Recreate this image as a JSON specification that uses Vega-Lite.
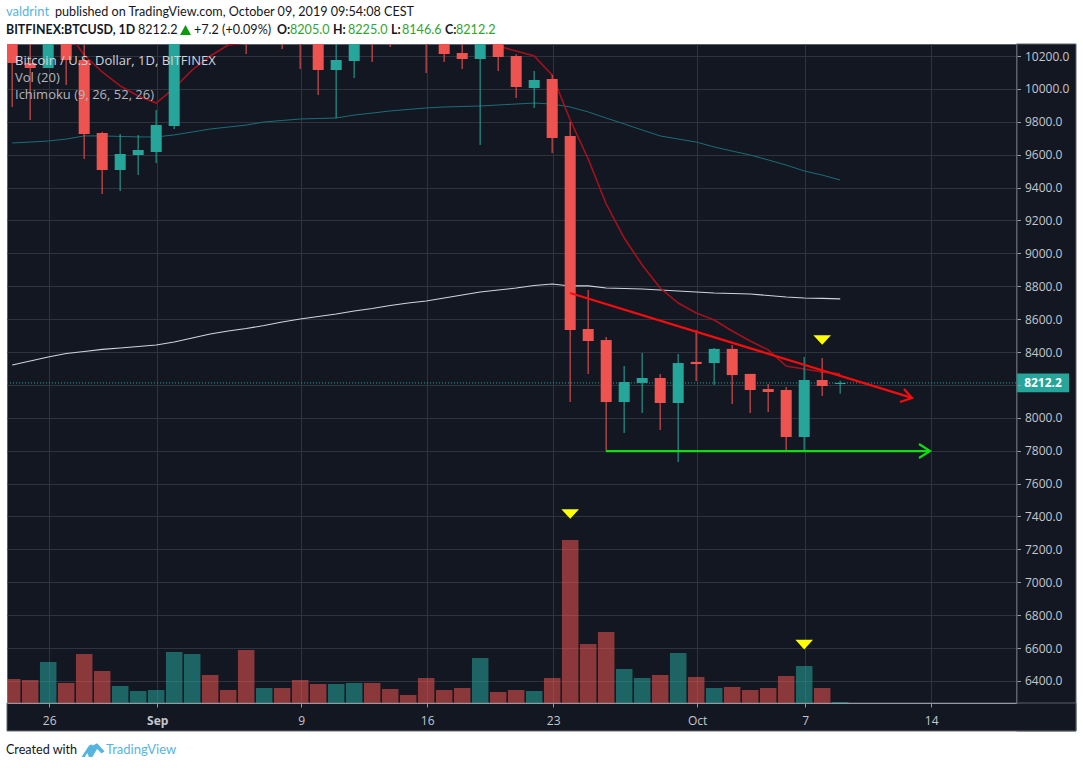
{"$schema":"https://vega.github.io/schema/vega-lite/v6.json","width":1009.5,"height":659,"autosize":{"type":"none"},"padding":{"left":7,"top":44,"right":66.5,"bottom":65},"background":"#ffffff","config":{"view":{"fill":"#131722","stroke":"#5d606b","strokeWidth":1},"font":"Open Sans"},
"datasets":{
"candles":[
{"d":"2019-08-24","o":10400,"h":10450,"l":9890,"c":10157,"v":2400,"mt":9671,"mw":8321,"mr":10600,"dir":"down"},
{"d":"2019-08-25","o":10157,"h":10350,"l":9811,"c":10127,"v":2300,"mt":9677,"mw":8346,"mr":10550,"dir":"down"},
{"d":"2019-08-26","o":10127,"h":10600,"l":10127,"c":10360,"v":4100,"mt":9683,"mw":8370,"mr":10450,"dir":"up"},
{"d":"2019-08-27","o":10360,"h":10420,"l":10024,"c":10176,"v":2000,"mt":9695,"mw":8391,"mr":10358,"dir":"down"},
{"d":"2019-08-28","o":10176,"h":10450,"l":9574,"c":9726,"v":4900,"mt":9714,"mw":8403,"mr":10206,"dir":"down"},
{"d":"2019-08-29","o":9732,"h":9740,"l":9361,"c":9507,"v":3200,"mt":9714,"mw":8416,"mr":10103,"dir":"down"},
{"d":"2019-08-30","o":9507,"h":9726,"l":9379,"c":9604,"v":1700,"mt":9711,"mw":8425,"mr":10018,"dir":"up"},
{"d":"2019-08-31","o":9598,"h":9720,"l":9477,"c":9628,"v":1200,"mt":9708,"mw":8434,"mr":9957,"dir":"up"},
{"d":"2019-09-01","o":9616,"h":9872,"l":9550,"c":9780,"v":1300,"mt":9708,"mw":8443,"mr":9914,"dir":"up"},
{"d":"2019-09-02","o":9774,"h":10450,"l":9756,"c":10370,"v":5100,"mt":9720,"mw":8461,"mr":10005,"dir":"up"},
{"d":"2019-09-03","o":10370,"h":10780,"l":10310,"c":10600,"v":4900,"mt":9738,"mw":8485,"mr":10115,"dir":"up"},
{"d":"2019-09-04","o":10600,"h":10640,"l":10350,"c":10570,"v":2800,"mt":9756,"mw":8510,"mr":10200,"dir":"down"},
{"d":"2019-09-05","o":10570,"h":10620,"l":10450,"c":10560,"v":1300,"mt":9768,"mw":8528,"mr":10267,"dir":"down"},
{"d":"2019-09-06","o":10560,"h":10640,"l":10212,"c":10310,"v":5300,"mt":9780,"mw":8543,"mr":10279,"dir":"down"},
{"d":"2019-09-07","o":10310,"h":10550,"l":10290,"c":10470,"v":1500,"mt":9799,"mw":8561,"mr":10300,"dir":"up"},
{"d":"2019-09-08","o":10470,"h":10590,"l":10243,"c":10400,"v":1500,"mt":9808,"mw":8583,"mr":10320,"dir":"down"},
{"d":"2019-09-09","o":10400,"h":10480,"l":10121,"c":10310,"v":2300,"mt":9817,"mw":8601,"mr":10340,"dir":"down"},
{"d":"2019-09-10","o":10310,"h":10380,"l":9963,"c":10115,"v":1900,"mt":9820,"mw":8616,"mr":10350,"dir":"down"},
{"d":"2019-09-11","o":10115,"h":10290,"l":9823,"c":10176,"v":1900,"mt":9823,"mw":8631,"mr":10360,"dir":"up"},
{"d":"2019-09-12","o":10170,"h":10450,"l":10066,"c":10420,"v":2000,"mt":9841,"mw":8650,"mr":10380,"dir":"up"},
{"d":"2019-09-13","o":10420,"h":10450,"l":10164,"c":10360,"v":2000,"mt":9853,"mw":8665,"mr":10390,"dir":"down"},
{"d":"2019-09-14","o":10360,"h":10420,"l":10255,"c":10350,"v":1400,"mt":9866,"mw":8683,"mr":10400,"dir":"down"},
{"d":"2019-09-15","o":10350,"h":10400,"l":10290,"c":10300,"v":800,"mt":9875,"mw":8698,"mr":10400,"dir":"down"},
{"d":"2019-09-16","o":10320,"h":10380,"l":10097,"c":10290,"v":2500,"mt":9884,"mw":8710,"mr":10390,"dir":"down"},
{"d":"2019-09-17","o":10290,"h":10310,"l":10164,"c":10212,"v":1300,"mt":9890,"mw":8729,"mr":10370,"dir":"down"},
{"d":"2019-09-18","o":10218,"h":10300,"l":10121,"c":10182,"v":1500,"mt":9893,"mw":8747,"mr":10340,"dir":"down"},
{"d":"2019-09-19","o":10182,"h":10400,"l":9659,"c":10290,"v":4500,"mt":9896,"mw":8765,"mr":10300,"dir":"up"},
{"d":"2019-09-20","o":10290,"h":10340,"l":10109,"c":10194,"v":1100,"mt":9902,"mw":8777,"mr":10261,"dir":"down"},
{"d":"2019-09-21","o":10200,"h":10210,"l":9945,"c":10012,"v":1300,"mt":9908,"mw":8789,"mr":10230,"dir":"down"},
{"d":"2019-09-22","o":10005,"h":10109,"l":9884,"c":10054,"v":1200,"mt":9914,"mw":8805,"mr":10200,"dir":"up"},
{"d":"2019-09-23","o":10060,"h":10084,"l":9610,"c":9701,"v":2500,"mt":9908,"mw":8814,"mr":10084,"dir":"down"},
{"d":"2019-09-24","o":9714,"h":9799,"l":8096,"c":8534,"v":16300,"mt":9890,"mw":8802,"mr":9811,"dir":"down"},
{"d":"2019-09-25","o":8540,"h":8777,"l":8267,"c":8467,"v":5900,"mt":9860,"mw":8802,"mr":9574,"dir":"down"},
{"d":"2019-09-26","o":8473,"h":8492,"l":7798,"c":8096,"v":7100,"mt":9823,"mw":8789,"mr":9300,"dir":"down"},
{"d":"2019-09-27","o":8096,"h":8315,"l":7908,"c":8218,"v":3400,"mt":9787,"mw":8786,"mr":9093,"dir":"up"},
{"d":"2019-09-28","o":8212,"h":8394,"l":8030,"c":8242,"v":2500,"mt":9750,"mw":8783,"mr":8929,"dir":"up"},
{"d":"2019-09-29","o":8242,"h":8267,"l":7926,"c":8090,"v":2800,"mt":9714,"mw":8777,"mr":8789,"dir":"down"},
{"d":"2019-09-30","o":8090,"h":8388,"l":7732,"c":8333,"v":5000,"mt":9695,"mw":8771,"mr":8698,"dir":"up"},
{"d":"2019-10-01","o":8340,"h":8534,"l":8224,"c":8327,"v":2600,"mt":9677,"mw":8765,"mr":8637,"dir":"down"},
{"d":"2019-10-02","o":8333,"h":8425,"l":8200,"c":8419,"v":1500,"mt":9647,"mw":8759,"mr":8595,"dir":"up"},
{"d":"2019-10-03","o":8419,"h":8443,"l":8084,"c":8260,"v":1600,"mt":9622,"mw":8756,"mr":8528,"dir":"down"},
{"d":"2019-10-04","o":8267,"h":8267,"l":8030,"c":8169,"v":1300,"mt":9598,"mw":8753,"mr":8467,"dir":"down"},
{"d":"2019-10-05","o":8175,"h":8206,"l":8036,"c":8157,"v":1500,"mt":9568,"mw":8744,"mr":8413,"dir":"down"},
{"d":"2019-10-06","o":8169,"h":8188,"l":7805,"c":7884,"v":2700,"mt":9537,"mw":8735,"mr":8315,"dir":"down"},
{"d":"2019-10-07","o":7884,"h":8370,"l":7792,"c":8230,"v":3700,"mt":9501,"mw":8729,"mr":8297,"dir":"up"},
{"d":"2019-10-08","o":8230,"h":8364,"l":8133,"c":8194,"v":1500,"mt":9476,"mw":8726,"mr":8279,"dir":"down"},
{"d":"2019-10-09","o":8205,"h":8225,"l":8146.6,"c":8212.2,"v":100,"mt":9446,"mw":8723,"mr":8267,"dir":"up"}
],
"panels":[
{"d":1571425440000,"d2":1571711040000,"p":10273,"p2":6096},
{"d":1566579840000,"d2":1571711040000,"p":6266,"p2":6096}
],
"priceLine":[{"d":1566579840000,"d2":1571425440000,"p":8212.2}],
"badge":[{"d":1571425440000,"d2":1571677440000,"p":8270,"p2":8155}],
"badgeText":[{"d":1571552640000,"p":8212.2,"label":"8212.2"}],
"marker":[{"d":"2019-09-24","p":7415},{"d":"2019-10-07","p":6621},{"d":"2019-10-08","p":8473}],
"redDrawing":[
{"part":"a","n":1,"d":1569282240000,"p":8759},{"part":"a","n":2,"d":1570923840000,"p":8121},
{"part":"b","n":1,"d":1570885440000,"p":8175},{"part":"b","n":2,"d":1570923840000,"p":8121},{"part":"b","n":3,"d":1570866240000,"p":8096}
],
"greenDrawing":[
{"part":"a","n":1,"d":1569455040000,"p":7798},{"part":"a","n":2,"d":1571010240000,"p":7798},
{"part":"b","n":1,"d":1570957440000,"p":7841},{"part":"b","n":2,"d":1571010240000,"p":7798},{"part":"b","n":3,"d":1570957440000,"p":7756}
],
"plotLabelsTop":[{"d":1566618240000,"p":10171,"label":"Bitcoin / U.S. Dollar, 1D, BITFINEX"}],
"plotLabels":[
{"d":1566618240000,"p":10068,"label":"Vol (20)"},
{"d":1566618240000,"p":9963,"label":"Ichimoku (9, 26, 52, 26)"}
],
"blackText":[
{"d":1566810240000,"p":10467,"label":"published on TradingView.com, October 09, 2019 09:54:08 CEST"},
{"d":1567208640000,"p":10358,"label":"8212.2"},
{"d":1567477440000,"p":10358,"label":"+7.2 (+0.09%)"},
{"d":1566575040000,"p":5980,"label":"Created with"}
],
"blueText":[
{"d":1566575040000,"p":10467,"label":"valdrint"},
{"d":1567055040000,"p":5980,"label":"TradingView"}
],
"boldText":[
{"d":1566575040000,"p":10358,"label":"BITFINEX:BTCUSD, 1D"},
{"d":1567875840000,"p":10358,"label":"O:"},
{"d":1568144640000,"p":10358,"label":"H:"},
{"d":1568423040000,"p":10358,"label":"L:"},
{"d":1568682240000,"p":10358,"label":"C:"}
],
"greenText":[
{"d":1567938240000,"p":10358,"label":"8205.0"},
{"d":1568216640000,"p":10358,"label":"8225.0"},
{"d":1568475840000,"p":10358,"label":"8146.6"},
{"d":1568735040000,"p":10358,"label":"8212.2"}
],
"upTri":[{"d":1567436640000,"p":10358}],
"logo":[{"d":1566992640000,"p":5980}]
},
"resolve":{"scale":{"y":"independent"},"axis":{"x":"independent"}},
"encoding":{"x":{"field":"d","type":"temporal","title":null,"scale":{"type":"utc","domain":[1566579840000,1571425440000],"nice":false,"padding":0},"axis":null}},
"layer":[
{"data":{"name":"priceLine"},"mark":{"type":"rule","opacity":0},"encoding":{
"x":{"field":"d","type":"temporal","title":null,"scale":{"type":"utc","domain":[1566579840000,1571425440000],"nice":false,"padding":0},"axis":{"orient":"bottom","values":[1566777600000,1567296000000,1567987200000,1568592000000,1569196800000,1569888000000,1570406400000,1571011200000],"labels":false,"ticks":false,"domain":false,"tickOffset":1,"grid":true,"gridColor":"#2f333e","gridWidth":1}},
"y":{"field":"p","type":"quantitative","title":null,"scale":{"domain":[6266,10273],"nice":false,"zero":false},"axis":{"orient":"right","values":[6400,6600,6800,7000,7200,7400,7600,7800,8000,8200,8400,8600,8800,9000,9200,9400,9600,9800,10000,10200],"labels":false,"ticks":false,"domain":false,"grid":true,"gridColor":"#2f333e","gridWidth":1}}}},
{"data":{"name":"panels"},"mark":{"type":"rect","fill":"#131722","stroke":"#5d606b","strokeWidth":1},"encoding":{
"x":{"field":"d","type":"temporal","title":null,"scale":{"type":"utc","domain":[1566579840000,1571425440000],"nice":false,"padding":0},"axis":{"orient":"bottom","values":[1566777600000,1567296000000,1567987200000,1568592000000,1569196800000,1569888000000,1570406400000,1571011200000],"labelExpr":"utcdate(datum.value)==1 ? utcFormat(datum.value,'%b') : ''+utcdate(datum.value)","labelFontWeight":{"condition":{"test":"utcmonth(datum.value)==8 && utcdate(datum.value)==1","value":"bold"},"value":"normal"},"labelColor":"#c4c7cf","labelFontSize":12,"labelPadding":8,"labelFont":"Open Sans","tickColor":"#9598a1","tickSize":4,"tickOffset":1,"domainColor":"#9598a1","grid":false,"labelFlush":false,"labelOverlap":false,"zindex":1}},
"x2":{"field":"d2"},"y":{"field":"p","type":"quantitative","title":null,"scale":{"domain":[6266,10273],"nice":false,"zero":false},"axis":{"orient":"right","values":[6400,6600,6800,7000,7200,7400,7600,7800,8000,8200,8400,8600,8800,9000,9200,9400,9600,9800,10000,10200],"labelExpr":"datum.value==8200 ? '' : format(datum.value,'.1f')","labelColor":"#c4c7cf","labelFontSize":12,"labelPadding":4,"labelFont":"Open Sans","tickColor":"#9598a1","tickSize":4,"domainColor":"#5d606b","grid":false,"labelOverlap":false,"zindex":1}},"y2":{"field":"p2"}}},
{"data":{"name":"candles"},"mark":{"type":"bar","size":16.5,"opacity":0.55,"clip":true},"encoding":{"y":{"field":"v","type":"quantitative","stack":null,"scale":{"domain":[0,65900],"nice":false},"axis":null},"color":{"field":"dir","type":"nominal","legend":null,"scale":{"domain":["up","down"],"range":["#26a69a","#ef5350"]}}}},
{"data":{"name":"candles"},"mark":{"type":"line","color":"#1a6f76","strokeWidth":1,"clip":true},"encoding":{"y":{"field":"mt","type":"quantitative","scale":{"domain":[6266,10273],"nice":false,"zero":false},"axis":null}}},
{"data":{"name":"candles"},"mark":{"type":"line","color":"#d1d4dc","strokeWidth":1.1,"clip":true},"encoding":{"y":{"field":"mw","type":"quantitative","scale":{"domain":[6266,10273],"nice":false,"zero":false},"axis":null}}},
{"data":{"name":"candles"},"mark":{"type":"line","color":"#a5101c","strokeWidth":1.6,"clip":true},"encoding":{"y":{"field":"mr","type":"quantitative","scale":{"domain":[6266,10273],"nice":false,"zero":false},"axis":null}}},
{"data":{"name":"priceLine"},"mark":{"type":"rule","color":"#26a69a","strokeWidth":1,"strokeDash":[1,2]},"encoding":{"x2":{"field":"d2"},"y":{"field":"p","type":"quantitative","scale":{"domain":[6266,10273],"nice":false,"zero":false},"axis":null}}},
{"data":{"name":"candles"},"mark":{"type":"rule","strokeWidth":1.5,"opacity":0.7,"clip":true},"encoding":{"y":{"field":"l","type":"quantitative","scale":{"domain":[6266,10273],"nice":false,"zero":false},"axis":null},"y2":{"field":"h"},"color":{"field":"dir","type":"nominal","legend":null}}},
{"data":{"name":"candles"},"mark":{"type":"bar","size":11,"clip":true},"encoding":{"y":{"field":"o","type":"quantitative","stack":null,"scale":{"domain":[6266,10273],"nice":false,"zero":false},"axis":null},"y2":{"field":"c"},"color":{"field":"dir","type":"nominal","legend":null}}},
{"data":{"name":"redDrawing"},"mark":{"type":"line","color":"#f50d0d","strokeWidth":2.2},"encoding":{"detail":{"field":"part"},"order":{"field":"n"},"y":{"field":"p","type":"quantitative","scale":{"domain":[6266,10273],"nice":false,"zero":false},"axis":null}}},
{"data":{"name":"greenDrawing"},"mark":{"type":"line","color":"#14dc14","strokeWidth":2.2},"encoding":{"detail":{"field":"part"},"order":{"field":"n"},"y":{"field":"p","type":"quantitative","scale":{"domain":[6266,10273],"nice":false,"zero":false},"axis":null}}},
{"data":{"name":"marker"},"mark":{"type":"point","filled":true,"opacity":1,"color":"#ffff00","shape":"M-1,-0.55L1,-0.55L0,0.55Z","size":310},"encoding":{"y":{"field":"p","type":"quantitative","scale":{"domain":[6266,10273],"nice":false,"zero":false},"axis":null}}},
{"data":{"name":"badge"},"mark":{"type":"rect","fill":"#26a69a"},"encoding":{"x2":{"field":"d2"},"y":{"field":"p","type":"quantitative","scale":{"domain":[6266,10273],"nice":false,"zero":false},"axis":null},"y2":{"field":"p2"}}},
{"data":{"name":"badgeText"},"mark":{"type":"text","color":"#ffffff","fontSize":12,"fontWeight":"bold","font":"Open Sans","align":"center","baseline":"middle"},"encoding":{"text":{"field":"label"},"y":{"field":"p","type":"quantitative","scale":{"domain":[6266,10273],"nice":false,"zero":false},"axis":null}}},
{"data":{"name":"plotLabelsTop"},"mark":{"type":"text","color":"#d1d4dc","fontSize":13,"fontWeight":500,"font":"Open Sans","align":"left","baseline":"middle"},"encoding":{"text":{"field":"label"},"y":{"field":"p","type":"quantitative","scale":{"domain":[6266,10273],"nice":false,"zero":false},"axis":null}}},
{"data":{"name":"plotLabels"},"mark":{"type":"text","color":"#b2b5be","fontSize":13,"font":"Open Sans","align":"left","baseline":"middle"},"encoding":{"text":{"field":"label"},"y":{"field":"p","type":"quantitative","scale":{"domain":[6266,10273],"nice":false,"zero":false},"axis":null}}},
{"data":{"name":"blackText"},"mark":{"type":"text","color":"#131722","fontSize":12.6,"font":"Lato","align":"left","baseline":"middle"},"encoding":{"text":{"field":"label"},"y":{"field":"p","type":"quantitative","scale":{"domain":[6266,10273],"nice":false,"zero":false},"axis":null}}},
{"data":{"name":"blueText"},"mark":{"type":"text","color":"#57b4de","fontSize":13,"font":"Lato","align":"left","baseline":"middle"},"encoding":{"text":{"field":"label"},"y":{"field":"p","type":"quantitative","scale":{"domain":[6266,10273],"nice":false,"zero":false},"axis":null}}},
{"data":{"name":"boldText"},"mark":{"type":"text","color":"#131722","fontSize":12.4,"fontWeight":"bold","font":"Lato","align":"left","baseline":"middle"},"encoding":{"text":{"field":"label"},"y":{"field":"p","type":"quantitative","scale":{"domain":[6266,10273],"nice":false,"zero":false},"axis":null}}},
{"data":{"name":"greenText"},"mark":{"type":"text","color":"#2fa52f","fontSize":12.6,"font":"Lato","align":"left","baseline":"middle"},"encoding":{"text":{"field":"label"},"y":{"field":"p","type":"quantitative","scale":{"domain":[6266,10273],"nice":false,"zero":false},"axis":null}}},
{"data":{"name":"upTri"},"mark":{"type":"point","filled":true,"opacity":1,"color":"#0a9a0a","shape":"M-1,0.9L1,0.9L0,-0.9Z","size":121},"encoding":{"y":{"field":"p","type":"quantitative","scale":{"domain":[6266,10273],"nice":false,"zero":false},"axis":null}}},
{"data":{"name":"logo"},"mark":{"type":"point","filled":true,"opacity":1,"color":"#57b4de","shape":"M-1,0.6L-0.4,-0.3Q-0.2,-0.6 0,-0.4L0.35,-0.6L1,0.1L0.75,0.3L0.35,-0.1L-0.05,0.6L-0.35,0.6L-0.5,0.25L-0.7,0.6Z","size":529},"encoding":{"y":{"field":"p","type":"quantitative","scale":{"domain":[6266,10273],"nice":false,"zero":false},"axis":null}}}
]}
